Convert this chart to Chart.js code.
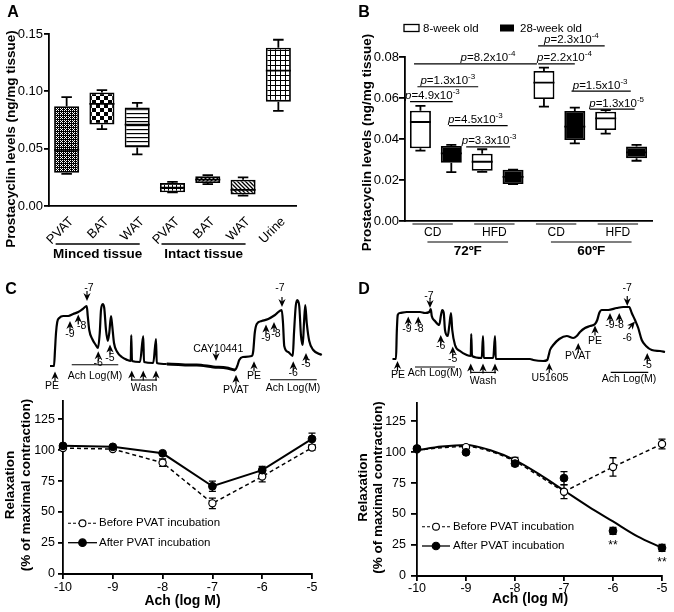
<!DOCTYPE html>
<html>
<head>
<meta charset="utf-8">
<script src="https://cdn.jsdelivr.net/npm/chart.js@4.4.1/dist/chart.umd.min.js"></script>
<style>
  body { margin: 0; background: #fff; }
  #fig { position: relative; width: 674px; height: 612px; }
  #fig canvas { position: absolute; }
</style>
</head>
<body>
<div id="fig">
  <canvas id="cA" width="337" height="280" style="left:0;top:0"></canvas>
  <canvas id="cB" width="337" height="280" style="left:337px;top:0"></canvas>
  <canvas id="cCt" width="337" height="112" style="left:0;top:282px"></canvas>
  <canvas id="cDt" width="337" height="112" style="left:337px;top:282px"></canvas>
  <canvas id="cC" width="337" height="222" style="left:0;top:390px"></canvas>
  <canvas id="cD" width="337" height="222" style="left:337px;top:390px"></canvas>
</div>
<script>
// ---- A: prostacyclin levels, box plots (min / Q1 / median / Q3 / max) ----
const aLabels = ['PVAT', 'BAT', 'WAT', 'PVAT', 'BAT', 'WAT', 'Urine'];
const aGroup = ['Minced tissue', 'Minced tissue', 'Minced tissue', 'Intact tissue', 'Intact tissue', 'Intact tissue', ''];
const aMin = [0.028, 0.067, 0.045, 0.012, 0.019, 0.009, 0.083];
const aQ1  = [0.029, 0.071, 0.051, 0.012, 0.020, 0.010, 0.091];
const aMed = [0.049, 0.089, 0.071, 0.016, 0.023, 0.014, 0.118];
const aQ3  = [0.087, 0.099, 0.086, 0.020, 0.026, 0.023, 0.138];
const aMax = [0.095, 0.101, 0.090, 0.021, 0.027, 0.025, 0.145];
const aTicks = [0, 0.05, 0.10, 0.15];

// ---- B: 8-week vs 28-week old, diet and temperature ----
const bDiet = ['CD', 'CD', 'HFD', 'HFD', 'CD', 'CD', 'HFD', 'HFD'];
const bTemp = ['72ºF', '72ºF', '72ºF', '72ºF', '60ºF', '60ºF', '60ºF', '60ºF'];
const bAge  = ['8-week old', '28-week old', '8-week old', '28-week old', '8-week old', '28-week old', '8-week old', '28-week old'];
const bMin = [0.0343, 0.0238, 0.0240, 0.0180, 0.0558, 0.0379, 0.0426, 0.0294];
const bQ1  = [0.0355, 0.0284, 0.0245, 0.0180, 0.0595, 0.0395, 0.0444, 0.0306];
const bMed = [0.0483, 0.0330, 0.0289, 0.0215, 0.0675, 0.0460, 0.0501, 0.0335];
const bQ3  = [0.0538, 0.0366, 0.0328, 0.0250, 0.0732, 0.0537, 0.0533, 0.0363];
const bMax = [0.0562, 0.0371, 0.0350, 0.0250, 0.0748, 0.0553, 0.0541, 0.0371];
const bTicks = [0, 0.02, 0.04, 0.06, 0.08];
// p-value comparisons (box index pairs), bracket height, p text
const pPairs = [[0, 1], [0, 2], [1, 3], [2, 3], [0, 4], [4, 5], [4, 6], [5, 7], [6, 7]];
const pLevel = [0.0582, 0.0655, 0.0465, 0.0362, 0.0766, 0.0766, 0.0854, 0.0634, 0.0546];
const pMant  = ['4.9', '1.3', '4.5', '3.3', '8.2', '2.2', '2.3', '1.5', '1.3'];
const pExp   = ['-3', '-3', '-3', '-3', '-4', '-4', '-4', '-3', '-5'];

// ---- C / D: Ach concentration-response (relaxation %) ----
const achX = [-10, -9, -8, -7, -6, -5];
const xTicks = [-10, -9, -8, -7, -6, -5];
const yTicks = [0, 25, 50, 75, 100, 125];
const cBefore = [101.6, 100.8, 89.8, 57, 78.6, 102];
const cBeforeErr = [1, 1, 3, 4.2, 4.2, 2];
const cAfter = [103.4, 102.6, 97.4, 70.8, 83.8, 109];
const cAfterErr = [1, 1, 1, 4.2, 3, 4.7];
const dBefore = [102.3, 104, 93, 68, 88, 106.5];
const dBeforeErr = [1, 1, 2.6, 5.5, 7.4, 4];
const dAfter = [102.9, 99.8, 90.7, 79, 36.4, 22.7];
const dAfterErr = [1, 1, 2, 5.2, 2.8, 2.8];
const dStars = ['', '', '', '', '**', '**'];
// fitted curves in D
const dFitX = [-10, -9.5, -9, -8.5, -8, -7.5, -7, -6.5, -6, -5.5, -5];
const dAfterFit = [101.5, 104.5, 105.8, 101.5, 93.5, 82, 69, 56, 44, 32, 22.7];
const dBeforeFit = [101.5, 103.5, 104.5, 100.5, 92.5, 80.5, 68];

// ---- isometric tension traces (time, tension) ----
const cTraceT = [0,1.6,2.0,2.4,2.9,3.7,5.3,7.3,9.3,11.3,13.1,14.7,15.1,15.7,16.9,18.3,19.2,19.9,20.4,21.1,21.7,22.4,23.1,23.7,24.4,24.9,25.6,26.9,28.7,30.9,32.3,32.5,32.8,36.0,37.3,37.6,41.3,42.4,42.7,46.7,56.0,58.7,65.3,70.7,74.0,74.9,75.7,77.1,80.7,81.3,81.9,82.7,84.7,87.3,90.0,92.7,93.2,93.7,95.3,97.1,97.6,98.3,98.9,99.7,100.4,101.1,101.6,102.1,102.7,103.7,105.3,108.7];
const cTraceF = [0,0,0.8,1.65,2.2,2.4,2.5,2.5,2.6,2.7,2.85,3.0,2.5,1.8,1.35,1.05,0.9,1.65,2.8,3.1,2.9,1.8,1.25,1.65,2.5,2.0,1.15,0.7,0.45,0.3,0.25,1.55,0.25,0.2,1.5,0.2,0.15,1.35,0.15,0.1,0.05,0.05,-0.05,-0.1,-0.2,0.0,0.3,0.45,0.5,0.75,1.65,2.1,2.25,2.35,2.55,2.8,2.15,1.0,0.7,0.5,1.65,3.0,3.3,3.0,1.5,1.05,2.15,3.05,2.15,1.25,0.8,0.55];
const dTraceT = [0,1.4,1.7,2.1,3.0,5.7,8.3,11.0,13.0,14.7,15.3,15.7,17.0,18.7,19.4,19.9,20.5,21.0,22.1,22.7,23.4,23.9,25.0,27.0,29.7,31.3,31.5,31.8,35.7,36.2,36.5,40.3,41.0,41.3,48.3,55.0,56.3,60.3,61.9,62.5,63.0,64.3,66.7,69.7,72.3,73.7,75.0,77.0,79.0,81.0,81.9,82.7,83.7,86.3,89.7,92.3,94.7,95.7,97.0,98.3,99.7,101.4,103.7,107.0,109.0];
const dTraceF = [0,0,1.3,2.2,2.3,2.35,2.35,2.35,2.3,2.35,2.5,2.15,1.9,1.7,2.2,2.45,2.3,1.45,1.15,1.65,2.3,1.45,0.7,0.4,0.2,0.15,1.25,0.15,0.05,1.15,0.05,0.05,1.15,0,0,0,-0.05,-0.1,-0.05,0.2,0.45,0.7,1.0,1.15,1.05,1.15,1.35,1.55,1.65,1.75,1.95,2.3,2.45,2.45,2.55,2.6,2.6,2.3,1.95,1.55,0.95,0.65,0.45,0.4,0.35];
// drug additions: arrow at (t, f), dir in degrees (0 = up), label at (tt, tf)
const cMarks = [
  {t: 2.0, f: -0.27, dir: 0, text: 'PE', tt: 0.8, tf: -1.0},
  {t: 8.0, f: 2.25, dir: 0, text: '-9', tt: 8.0, tf: 1.57},
  {t: 11.3, f: 2.57, dir: 0, text: '-8', tt: 12.7, tf: 1.99},
  {t: 14.8, f: 3.25, dir: 180, text: '-7', tt: 15.6, tf: 3.9},
  {t: 19.3, f: 0.74, dir: 0, text: '-6', tt: 19.3, tf: 0.15},
  {t: 24.0, f: 1.07, dir: 0, text: '-5', tt: 24.0, tf: 0.4},
  {t: 32.7, f: -0.22, dir: 0}, {t: 37.3, f: -0.22, dir: 0}, {t: 42.4, f: -0.22, dir: 0},
  {t: 66.4, f: 0.25, dir: 180, text: 'CAY10441', tt: 67.3, tf: 0.82},
  {t: 74.4, f: -0.44, dir: 0, text: 'PVAT', tt: 74.4, tf: -1.19},
  {t: 81.6, f: 0.24, dir: 0, text: 'PE', tt: 81.6, tf: -0.49},
  {t: 86.4, f: 2.07, dir: 0, text: '-9', tt: 86.4, tf: 1.4},
  {t: 89.6, f: 2.2, dir: 0, text: '-8', tt: 90.4, tf: 1.57},
  {t: 92.8, f: 2.95, dir: 180, text: '-7', tt: 92.0, tf: 3.9},
  {t: 97.3, f: 0.24, dir: 0, text: '-6', tt: 97.3, tf: -0.35},
  {t: 102.4, f: 0.65, dir: 0, text: '-5', tt: 102.4, tf: 0.07}
];
const cBars = [
  {t0: 8.7, t1: 27.3, f: 0.065, text: 'Ach Log(M)', tt: 18, tf: -0.49},
  {t0: 32.4, t1: 42.8, f: -0.7, text: 'Wash', tt: 37.6, tf: -1.1},
  {t0: 88, t1: 106.7, f: -0.69, text: 'Ach Log(M)', tt: 97.2, tf: -1.1}
];
const dMarks = [
  {t: 2.0, f: -0.1, dir: 0, text: 'PE', tt: 2.2, tf: -0.8},
  {t: 6.3, f: 2.13, dir: 0, text: '-9', tt: 5.8, tf: 1.47},
  {t: 10.3, f: 2.13, dir: 0, text: '-8', tt: 10.6, tf: 1.47},
  {t: 15.0, f: 2.55, dir: 180, text: '-7', tt: 14.6, tf: 3.13},
  {t: 19.3, f: 1.2, dir: 0, text: '-6', tt: 19.3, tf: 0.63},
  {t: 24.1, f: 0.63, dir: 0, text: '-5', tt: 24.1, tf: -0.03},
  {t: 31.3, f: -0.23, dir: 0}, {t: 36.2, f: -0.23, dir: 0}, {t: 41.0, f: -0.23, dir: 0},
  {t: 62.7, f: -0.2, dir: 0, text: 'U51605', tt: 63.0, tf: -0.95},
  {t: 74.3, f: 0.8, dir: 0, text: 'PVAT', tt: 74.2, tf: 0.13},
  {t: 81.0, f: 1.67, dir: 0, text: 'PE', tt: 81.0, tf: 0.88},
  {t: 87.0, f: 2.3, dir: 0, text: '-9', tt: 87.0, tf: 1.67},
  {t: 90.7, f: 2.3, dir: 0, text: '-8', tt: 90.7, tf: 1.67},
  {t: 93.9, f: 2.65, dir: 180, text: '-7', tt: 93.9, tf: 3.55},
  {t: 97.0, f: 1.88, dir: 40, text: '-6', tt: 93.9, tf: 1.05},
  {t: 101.9, f: 0.3, dir: 0, text: '-5', tt: 101.9, tf: -0.33}
];
const dBars = [
  {t0: 9.0, t1: 25.0, f: -0.4, text: 'Ach Log(M)', tt: 17.0, tf: -0.7},
  {t0: 31.4, t1: 41.4, f: -0.67, text: 'Wash', tt: 36.2, tf: -1.12},
  {t0: 87.3, t1: 102.3, f: -0.67, text: 'Ach Log(M)', tt: 94.6, tf: -1.03}
];

const FONT = '"Liberation Sans", Arial, Helvetica, sans-serif';
Chart.defaults.font.family = FONT;
Chart.defaults.font.size = 13;
Chart.defaults.color = '#000';
Chart.defaults.animation = false;
Chart.defaults.plugins.legend.display = false;
Chart.defaults.plugins.tooltip.enabled = false;

function text(ctx, s, x, y, font, align, base) {
  ctx.font = font;
  ctx.textAlign = align || 'center';
  ctx.textBaseline = base || 'middle';
  ctx.fillText(s, x, y);
}
function vtext(ctx, s, x, y, font) {
  ctx.save();
  ctx.translate(x, y);
  ctx.rotate(-Math.PI / 2);
  text(ctx, s, 0, 0, font);
  ctx.restore();
}
function seg(ctx, x0, y0, x1, y1, w) {
  ctx.lineWidth = w || 1.3;
  ctx.beginPath(); ctx.moveTo(x0, y0); ctx.lineTo(x1, y1); ctx.stroke();
}
// runs of equal consecutive labels -> [label, first, last]
function runs(arr) {
  const out = [];
  arr.forEach((v, i) => {
    if (out.length && out[out.length - 1][0] === v) out[out.length - 1][2] = i;
    else out.push([v, i, i]);
  });
  return out.filter(r => r[0]);
}

// fill patterns for panel A
function makePattern(ctx, kind) {
  const s = kind === 'checker' ? 8 : kind === 'grid5' ? 5 : 4;
  const c = document.createElement('canvas');
  c.width = c.height = s;
  const g = c.getContext('2d');
  g.fillStyle = '#fff'; g.fillRect(0, 0, s, s);
  g.fillStyle = '#000'; g.strokeStyle = '#000';
  if (kind === 'fine') {
    g.fillRect(0, 0, s, s);
    g.fillStyle = '#fff';
    [[0, 0], [2, 2], [2, 0], [0, 2], [1, 1]].forEach(p => g.fillRect(p[0], p[1], 1, 1));
  } else if (kind === 'checker') {
    g.fillRect(0, 0, 4, 4); g.fillRect(4, 4, 4, 4);
  } else if (kind === 'hlines') {
    g.fillRect(0, 1, s, 1.2);
  } else if (kind === 'grid' || kind === 'grid5') {
    g.fillRect(0, 0, s, 1); g.fillRect(0, 0, 1, s);
  } else if (kind === 'diag' || kind === 'diag2') {
    g.lineWidth = 1.3;
    g.beginPath();
    if (kind === 'diag') {
      g.moveTo(0, 4); g.lineTo(4, 0); g.moveTo(-1, 1); g.lineTo(1, -1); g.moveTo(3, 5); g.lineTo(5, 3);
    } else {
      g.moveTo(0, 0); g.lineTo(4, 4); g.moveTo(-1, 3); g.lineTo(1, 5); g.moveTo(3, -1); g.lineTo(5, 1);
    }
    g.stroke();
  }
  return ctx.createPattern(c, 'repeat');
}

function boxPlugin(mins, q1s, meds, q3s, maxs, capFrac) {
  return {
    id: 'boxes',
    afterDatasetsDraw(chart) {
      const {ctx} = chart, y = chart.scales.y, meta = chart.getDatasetMeta(0);
      ctx.save();
      ctx.strokeStyle = '#000'; ctx.lineWidth = 1.8;
      meta.data.forEach((bar, i) => {
        const cx = bar.x, hw = bar.width / 2, cap = bar.width * capFrac;
        const pMax = y.getPixelForValue(maxs[i]), pMin = y.getPixelForValue(mins[i]);
        const pQ3 = y.getPixelForValue(q3s[i]), pQ1 = y.getPixelForValue(q1s[i]);
        const pMed = y.getPixelForValue(meds[i]);
        ctx.beginPath();
        ctx.moveTo(cx, pQ3); ctx.lineTo(cx, pMax);
        ctx.moveTo(cx - cap, pMax); ctx.lineTo(cx + cap, pMax);
        ctx.moveTo(cx, pQ1); ctx.lineTo(cx, pMin);
        ctx.moveTo(cx - cap, pMin); ctx.lineTo(cx + cap, pMin);
        ctx.moveTo(cx - hw, pMed); ctx.lineTo(cx + hw, pMed);
        ctx.stroke();
      });
      ctx.restore();
    }
  };
}

function axisY(min, max, ticks, fmt, width, tickLen, pad, fontSize) {
  return {
    min: min, max: max,
    afterBuildTicks: s => { s.ticks = ticks.map(v => ({value: v})); },
    afterFit: s => { s.width = width; },
    ticks: {callback: fmt, padding: pad, font: {size: fontSize}},
    grid: {drawOnChartArea: false, color: '#000', lineWidth: 1.8, tickLength: tickLen},
    border: {color: '#000', width: 1.8}
  };
}

// ---------------- Panel A ----------------
const ctxA = document.getElementById('cA').getContext('2d');
const aPatterns = ['fine', 'checker', 'hlines', 'grid', 'diag', 'diag2', 'grid5'].map(k => makePattern(ctxA, k));
new Chart(ctxA, {
  type: 'bar',
  data: {
    labels: aLabels,
    datasets: [{
      data: aQ1.map((v, i) => [v, aQ3[i]]),
      backgroundColor: aPatterns,
      borderColor: '#000', borderWidth: 1.8, borderSkipped: false,
      barPercentage: 0.71, categoryPercentage: 1
    }]
  },
  options: {
    responsive: false,
    layout: {padding: {top: 34, right: 41, left: 0, bottom: 0}},
    scales: {
      x: {
        afterFit: s => { s.height = 74; },
        grid: {display: false, drawTicks: false},
        border: {color: '#000', width: 1.8},
        ticks: {minRotation: 45, maxRotation: 45, autoSkip: false, padding: 8, labelOffset: 5, font: {size: 13}}
      },
      y: axisY(0, 0.15, aTicks, v => v.toFixed(2), 49, 5, 1, 13)
    }
  },
  plugins: [boxPlugin(aMin, aQ1, aMed, aQ3, aMax, 0.21), {
    id: 'decoA',
    afterDraw(chart) {
      const {ctx} = chart, x = chart.scales.x;
      ctx.save();
      ctx.fillStyle = '#000'; ctx.strokeStyle = '#000';
      runs(aGroup).forEach(([lab, i0, i1]) => {
        const x0 = x.getPixelForValue(i0) - 11, x1 = x.getPixelForValue(i1) + 2.5;
        seg(ctx, x0, 244, x1, 244, 1.3);
        text(ctx, lab, (x0 + x1) / 2, 254, 'bold 13.5px ' + FONT);
      });
      vtext(ctx, 'Prostacyclin levels (ng/mg tissue)', 11, 139, 'bold 13.5px ' + FONT);
      text(ctx, 'A', 13, 13, 'bold 16px ' + FONT);
      ctx.restore();
    }
  }]
});

// ---------------- Panel B ----------------
function pLabel(ctx, mant, exp, cx, base) {
  const f1 = 'italic 11.5px ' + FONT, f2 = '11.5px ' + FONT, f3 = '8px ' + FONT;
  const s2 = '=' + mant + 'x10';
  ctx.font = f1; const w1 = ctx.measureText('p').width;
  ctx.font = f2; const w2 = ctx.measureText(s2).width;
  ctx.font = f3; const w3 = ctx.measureText(exp).width;
  let xx = cx - (w1 + w2 + w3) / 2;
  ctx.textAlign = 'left'; ctx.textBaseline = 'alphabetic';
  ctx.font = f1; ctx.fillText('p', xx, base); xx += w1;
  ctx.font = f2; ctx.fillText(s2, xx, base); xx += w2;
  ctx.font = f3; ctx.fillText(exp, xx, base - 5);
}
// small nudges so each bracket sits like the original
const pLeftNudge  = [-10.4, -3, -2.3, -16, -6.4, -5.8, -5.8, -3.3, -16];
const pRightNudge = [1.4, -4, -5.4, -3, -7, 0, -1, -5.8, -2];
const pTextNudge  = [1, 0, -3, 1, 12.5, 8, 0, -1, 4.5];

const ctxB = document.getElementById('cB').getContext('2d');
new Chart(ctxB, {
  type: 'bar',
  data: {
    labels: bDiet.map((d, i) => d + ' ' + bTemp[i] + ' ' + bAge[i]),
    datasets: [{
      data: bQ1.map((v, i) => [v, bQ3[i]]),
      backgroundColor: bAge.map(a => a.startsWith('8') ? '#fff' : '#000'),
      borderColor: '#000', borderWidth: 1.8, borderSkipped: false,
      barPercentage: 0.68, categoryPercentage: 1
    }]
  },
  options: {
    responsive: false,
    layout: {padding: {top: 57, right: 22, left: 0, bottom: 0}},
    scales: {
      x: {
        afterFit: s => { s.height = 59; },
        grid: {display: false, drawTicks: false},
        border: {color: '#000', width: 1.8},
        ticks: {display: false}
      },
      y: axisY(0, 0.08, bTicks, v => v.toFixed(2), 68, 6, 0, 13)
    }
  },
  plugins: [boxPlugin(bMin, bQ1, bMed, bQ3, bMax, 0.24), {
    id: 'decoB',
    afterDraw(chart) {
      const {ctx} = chart, x = chart.scales.x, y = chart.scales.y;
      ctx.save();
      ctx.fillStyle = '#000'; ctx.strokeStyle = '#000';
      pPairs.forEach(([i, j], k) => {
        const x0 = x.getPixelForValue(i) + pLeftNudge[k], x1 = x.getPixelForValue(j) + pRightNudge[k];
        const py = y.getPixelForValue(pLevel[k]);
        seg(ctx, x0, py, x1, py, 1.2);
        pLabel(ctx, pMant[k], pExp[k], (x0 + x1) / 2 + pTextNudge[k], py - 2.5);
      });
      runs(bDiet).forEach(([lab, i0, i1]) => {
        const x0 = x.getPixelForValue(i0) - 8, x1 = x.getPixelForValue(i1) + 1.5;
        seg(ctx, x0, 224, x1, 224, 1.2);
        text(ctx, lab, (x0 + x1) / 2, 232.5, '12px ' + FONT);
      });
      runs(bTemp).forEach(([lab, i0, i1]) => {
        const x0 = x.getPixelForValue(i0) + 7, x1 = x.getPixelForValue(i1) - 5;
        seg(ctx, x0, 242, x1, 242, 1.2);
        text(ctx, lab, (x0 + x1) / 2, 251, 'bold 13.5px ' + FONT);
      });
      // legend
      ctx.lineWidth = 1.3;
      ctx.fillStyle = '#fff'; ctx.fillRect(67, 24.5, 15, 7); ctx.strokeRect(67, 24.5, 15, 7);
      ctx.fillStyle = '#000'; ctx.fillRect(163, 24.5, 14, 7);
      text(ctx, bAge[0], 86, 28.5, '11.5px ' + FONT, 'left');
      text(ctx, bAge[1], 183, 28.5, '11.5px ' + FONT, 'left');
      vtext(ctx, 'Prostacyclin levels (ng/mg tissue)', 30, 142.5, 'bold 13.5px ' + FONT);
      text(ctx, 'B', 27, 13, 'bold 16px ' + FONT);
      ctx.restore();
    }
  }]
});

// ---------------- tension traces ----------------
function arrow(ctx, x, y, deg) {
  ctx.save();
  ctx.translate(x, y);
  ctx.rotate(deg * Math.PI / 180);
  ctx.beginPath();
  ctx.moveTo(0, 0); ctx.lineTo(-3.6, 8); ctx.lineTo(0, 5.6); ctx.lineTo(3.6, 8); ctx.closePath();
  ctx.fill();
  ctx.lineWidth = 1.2;
  ctx.beginPath(); ctx.moveTo(0, 5); ctx.lineTo(0, 10); ctx.stroke();
  ctx.restore();
}
function traceChart(id, T, F, xr, yr, marks, bars, letter, lx) {
  const ctx = document.getElementById(id).getContext('2d');
  return new Chart(ctx, {
    type: 'line',
    data: {
      datasets: [{
        data: T.map((t, i) => ({x: t, y: F[i]})),
        borderColor: '#000', borderWidth: 2.2, pointRadius: 0,
        cubicInterpolationMode: 'monotone',
        segment: {borderWidth: c => (id === 'cCt' && c.p0.parsed.x > 44 && c.p0.parsed.x < 74) ? 3 : 2.2}
      }]
    },
    options: {
      responsive: false,
      layout: {padding: 0},
      scales: {
        x: {type: 'linear', display: false, min: xr[0], max: xr[1]},
        y: {display: false, min: yr[0], max: yr[1]}
      }
    },
    plugins: [{
      id: 'marks',
      afterDatasetsDraw(chart) {
        const c = chart.ctx, x = chart.scales.x, y = chart.scales.y;
        c.save();
        c.fillStyle = '#000'; c.strokeStyle = '#000';
        marks.forEach(m => {
          arrow(c, x.getPixelForValue(m.t), y.getPixelForValue(m.f), m.dir);
          if (m.text) text(c, m.text, x.getPixelForValue(m.tt), y.getPixelForValue(m.tf), '10.5px ' + FONT);
        });
        bars.forEach(b => {
          const py = y.getPixelForValue(b.f);
          seg(c, x.getPixelForValue(b.t0), py, x.getPixelForValue(b.t1), py, 1.1);
          text(c, b.text, x.getPixelForValue(b.tt), y.getPixelForValue(b.tf), '10.5px ' + FONT);
        });
        text(c, letter, lx, 8, 'bold 16px ' + FONT);
        c.restore();
      }
    }]
  });
}
traceChart('cCt', cTraceT, cTraceF, [-20, 114.8], [-1.4, 4.2], cMarks, cBars, 'C', 11);
traceChart('cDt', dTraceT, dTraceF, [-22.2, 112.6], [-1.75, 3.85], dMarks, dBars, 'D', 27);

// ---------------- concentration-response ----------------
const errPlugin = {
  id: 'errs',
  beforeDatasetsDraw(chart) {
    const {ctx} = chart, y = chart.scales.y;
    ctx.save(); ctx.strokeStyle = '#000'; ctx.lineWidth = 1.3;
    chart.data.datasets.forEach((ds, k) => {
      if (!ds.errors) return;
      chart.getDatasetMeta(k).data.forEach((pt, i) => {
        const v = ds.data[i].y, e = ds.errors[i];
        const y0 = y.getPixelForValue(v - e), y1 = y.getPixelForValue(v + e);
        ctx.beginPath();
        ctx.moveTo(pt.x, y0); ctx.lineTo(pt.x, y1);
        ctx.moveTo(pt.x - 3.5, y0); ctx.lineTo(pt.x + 3.5, y0);
        ctx.moveTo(pt.x - 3.5, y1); ctx.lineTo(pt.x + 3.5, y1);
        ctx.stroke();
      });
    });
    ctx.restore();
  }
};
function pts(xs, ys) { return xs.map((x, i) => ({x: x, y: ys[i]})); }
const beforeStyle = {borderColor: '#000', borderWidth: 1.5, borderDash: [4, 3], pointRadius: 3.6,
  pointBackgroundColor: '#fff', pointBorderColor: '#000', pointBorderWidth: 1.2, clip: false};
const afterStyle = {borderColor: '#000', borderWidth: 2, pointRadius: 3.9,
  pointBackgroundColor: '#000', pointBorderColor: '#000', pointBorderWidth: 1, clip: false};

function doseChart(id, datasets, geo, extra) {
  const ctx = document.getElementById(id).getContext('2d');
  return new Chart(ctx, {
    type: 'line',
    data: {datasets: datasets},
    options: {
      responsive: false,
      layout: {padding: {top: geo.top, right: geo.right, left: 0, bottom: 0}},
      scales: {
        x: {
          type: 'linear', min: -10, max: -5,
          afterBuildTicks: s => { s.ticks = xTicks.map(v => ({value: v})); },
          afterFit: s => { s.height = geo.xh; },
          ticks: {padding: geo.xpad, font: {size: 12.5}},
          grid: {drawOnChartArea: false, color: '#000', lineWidth: 1.8, tickLength: 5},
          border: {color: '#000', width: 2}
        },
        y: axisY(0, 140, yTicks, v => String(v), geo.yw, geo.ytl, geo.ypad, 12.5)
      }
    },
    plugins: [errPlugin, {
      id: 'deco',
      afterDraw(chart) {
        const c = chart.ctx;
        c.save();
        c.fillStyle = '#000'; c.strokeStyle = '#000';
        // legend
        const lg = geo.legend;
        [['Before PVAT incubation', beforeStyle], ['After PVAT incubation', afterStyle]].forEach(([lab, st], k) => {
          const ly = lg.ys[k];
          c.setLineDash(k === 0 ? [3, 2] : []);
          seg(c, lg.x0, ly, lg.x1, ly, k === 0 ? 1.1 : 1.3);
          c.setLineDash([]);
          c.beginPath(); c.arc((lg.x0 + lg.x1) / 2, ly, k === 0 ? 3.4 : 3.8, 0, Math.PI * 2);
          c.fillStyle = st.pointBackgroundColor; c.fill();
          c.lineWidth = 1.1; c.stroke();
          c.fillStyle = '#000';
          text(c, lab, lg.tx, ly, '11.5px ' + FONT, 'left');
        });
        vtext(c, 'Relaxation', geo.t1[0], geo.t1[1], 'bold 13.5px ' + FONT);
        vtext(c, '(% of maximal contraction)', geo.t2[0], geo.t2[1], 'bold 13.5px ' + FONT);
        text(c, 'Ach (log M)', geo.xt[0], geo.xt[1], 'bold 14px ' + FONT);
        if (extra) extra(chart);
        c.restore();
      }
    }]
  });
}

doseChart('cC', [
  Object.assign({label: 'After PVAT incubation', data: pts(achX, cAfter), errors: cAfterErr, order: 0}, afterStyle),
  Object.assign({label: 'Before PVAT incubation', data: pts(achX, cBefore), errors: cBeforeErr, order: 1}, beforeStyle)
], {top: 5, right: 25, xh: 38, xpad: 1, yw: 63, ytl: 5, ypad: 3,
    legend: {x0: 68, x1: 97, ys: [133.3, 152.7], tx: 99},
    t1: [10, 95], t2: [26.7, 95], xt: [182.5, 210.7]});

doseChart('cD', [
  Object.assign({label: 'After PVAT incubation', data: pts(achX, dAfter), errors: dAfterErr, order: 0, showLine: false}, afterStyle),
  Object.assign({label: 'Before PVAT incubation', data: pts(achX, dBefore), errors: dBeforeErr, order: 1, showLine: false}, beforeStyle),
  Object.assign({label: 'After fit', data: pts(dFitX, dAfterFit), order: 2, cubicInterpolationMode: 'monotone'}, afterStyle, {pointRadius: 0}),
  Object.assign({label: 'Before fit', data: pts(dFitX.slice(0, dBeforeFit.length), dBeforeFit), order: 3, cubicInterpolationMode: 'monotone'}, beforeStyle, {pointRadius: 0}),
  Object.assign({label: 'Before tail', data: pts(achX.slice(3), dBefore.slice(3)), order: 3}, beforeStyle, {pointRadius: 0})
], {top: 6, right: 12, xh: 36, xpad: 0, yw: 80, ytl: 6, ypad: 5,
    legend: {x0: 85, x1: 113, ys: [136.7, 156], tx: 116},
    t1: [25.8, 97.5], t2: [41.3, 97.5], xt: [193, 209.3]},
  chart => {
    const c = chart.ctx, x = chart.scales.x, y = chart.scales.y;
    dStars.forEach((s, i) => {
      if (!s) return;
      text(c, s, x.getPixelForValue(achX[i]), y.getPixelForValue(dAfter[i] - dAfterErr[i]) + 11, '12px ' + FONT);
    });
  });
</script>
</body>
</html>
